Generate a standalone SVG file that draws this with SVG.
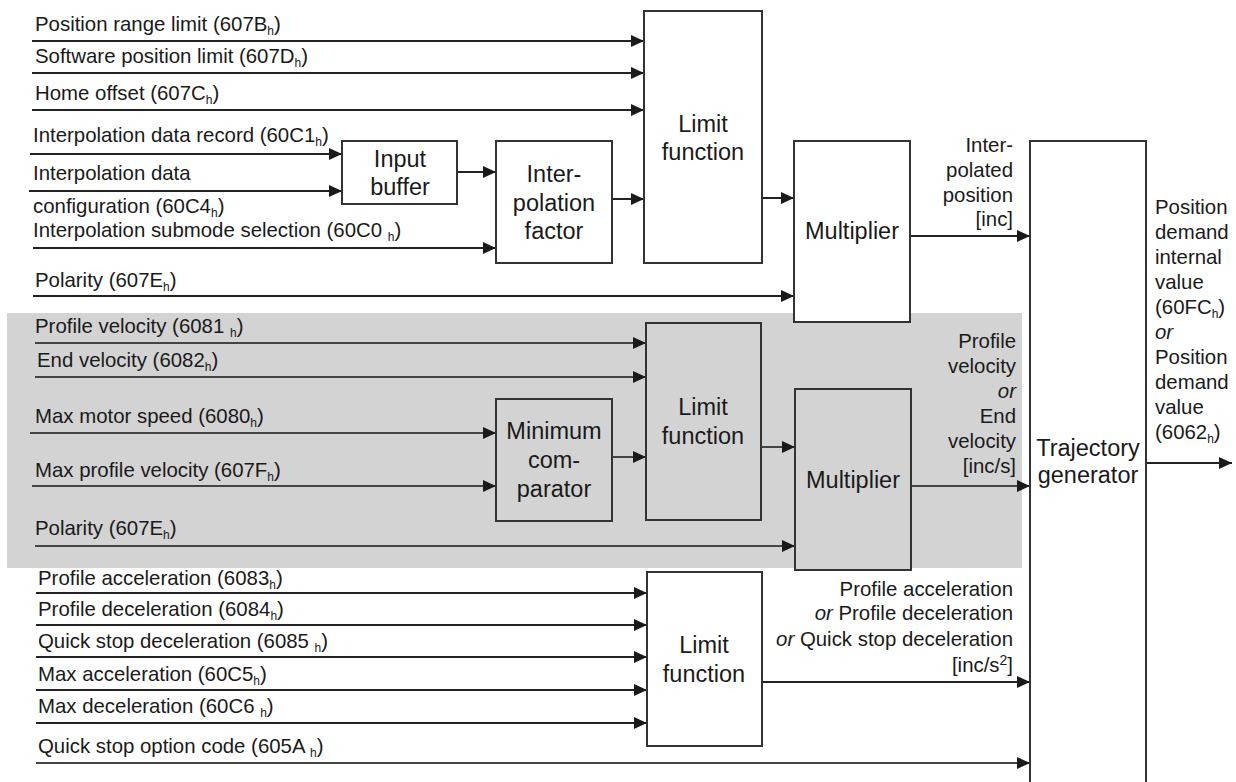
<svg xmlns="http://www.w3.org/2000/svg" width="1236" height="782" viewBox="0 0 1236 782">
<defs>
<marker id="arr" markerUnits="userSpaceOnUse" markerWidth="14" markerHeight="12" refX="13" refY="6" orient="auto">
<path d="M0,0 L13,6 L0,12 z" fill="#1a1a1a"/>
</marker>
<style>
.lbl{font-family:"Liberation Sans",Arial,sans-serif;font-size:20.4px;fill:#1a1a1a}
.blk{font-family:"Liberation Sans",Arial,sans-serif;font-size:23.5px;fill:#1a1a1a;text-anchor:middle}
.sub{font-size:12px}
.sup{font-size:14px}
.box{fill:#fff;stroke:#333;stroke-width:2}
.gbox{fill:#d3d3d3;stroke:#333;stroke-width:2}
.ln{fill:none;stroke:#222;stroke-width:2;marker-end:url(#arr)}
.gl{fill:none;stroke:#444;stroke-width:2;marker-end:url(#arr)}
.r{text-anchor:end}
.it{font-style:italic}
</style>
</defs>
<rect width="1236" height="782" fill="#fff"/>
<rect id="velocity-band" x="7" y="313" width="1015" height="255" fill="#d3d3d3"/>

<g id="connectors">
<path class="ln" d="M32,41 H644"/>
<path class="ln" d="M32,73 H644"/>
<path class="ln" d="M32,110 H644"/>
<path class="ln" d="M30,154 H342"/>
<path class="ln" d="M29,191 H342"/>
<path class="ln" d="M457,172 H496"/>
<path class="ln" d="M33,248 H496"/>
<path class="ln" d="M612,199 H644"/>
<path class="ln" d="M760,198 H794"/>
<path class="ln" d="M33,296 H794"/>
<path class="ln" d="M910,236 H1030"/>
<path class="ln" d="M1146,463 H1232"/>
<path class="gl" d="M35,343 H646"/>
<path class="gl" d="M35,377 H646"/>
<path class="gl" d="M30,433 H496"/>
<path class="gl" d="M32,486 H496"/>
<path class="gl" d="M612,457 H646"/>
<path class="gl" d="M761,447 H795"/>
<path class="gl" d="M35,546 H795"/>
<path class="gl" d="M911,486 H1030"/>
<path class="ln" d="M36,593 H647"/>
<path class="ln" d="M36,625 H647"/>
<path class="ln" d="M36,657 H647"/>
<path class="ln" d="M36,690 H647"/>
<path class="ln" d="M36,723 H647"/>
<path class="ln" d="M762,682 H1030"/>
<path class="gl" d="M36,763 H1030"/>
</g>

<g id="input-labels">
<text class="lbl" x="35" y="31">Position range limit (607B<tspan class="sub" dy="4">h</tspan><tspan dy="-4">)</tspan></text>
<text class="lbl" x="35" y="63">Software position limit (607D<tspan class="sub" dy="4">h</tspan><tspan dy="-4">)</tspan></text>
<text class="lbl" x="35" y="100">Home offset (607C<tspan class="sub" dy="4">h</tspan><tspan dy="-4">)</tspan></text>
<text class="lbl" x="33" y="142">Interpolation data record (60C1<tspan class="sub" dy="4">h</tspan><tspan dy="-4">)</tspan></text>
<text class="lbl" x="33" y="180">Interpolation data</text>
<text class="lbl" x="33" y="213">configuration (60C4<tspan class="sub" dy="4">h</tspan><tspan dy="-4">)</tspan></text>
<text class="lbl" x="33" y="237">Interpolation submode selection (60C0 <tspan class="sub" dy="4">h</tspan><tspan dy="-4">)</tspan></text>
<text class="lbl" x="35" y="287">Polarity (607E<tspan class="sub" dy="4">h</tspan><tspan dy="-4">)</tspan></text>
<text class="lbl" x="35" y="333">Profile velocity (6081 <tspan class="sub" dy="4">h</tspan><tspan dy="-4">)</tspan></text>
<text class="lbl" x="37" y="367">End velocity (6082<tspan class="sub" dy="4">h</tspan><tspan dy="-4">)</tspan></text>
<text class="lbl" x="35" y="423">Max motor speed (6080<tspan class="sub" dy="4">h</tspan><tspan dy="-4">)</tspan></text>
<text class="lbl" x="35" y="477">Max profile velocity (607F<tspan class="sub" dy="4">h</tspan><tspan dy="-4">)</tspan></text>
<text class="lbl" x="35" y="535">Polarity (607E<tspan class="sub" dy="4">h</tspan><tspan dy="-4">)</tspan></text>
<text class="lbl" x="38" y="585">Profile acceleration (6083<tspan class="sub" dy="4">h</tspan><tspan dy="-4">)</tspan></text>
<text class="lbl" x="38" y="616">Profile deceleration (6084<tspan class="sub" dy="4">h</tspan><tspan dy="-4">)</tspan></text>
<text class="lbl" x="38" y="648">Quick stop deceleration (6085 <tspan class="sub" dy="4">h</tspan><tspan dy="-4">)</tspan></text>
<text class="lbl" x="38" y="681">Max acceleration (60C5<tspan class="sub" dy="4">h</tspan><tspan dy="-4">)</tspan></text>
<text class="lbl" x="38" y="713">Max deceleration (60C6 <tspan class="sub" dy="4">h</tspan><tspan dy="-4">)</tspan></text>
<text class="lbl" x="38" y="753">Quick stop option code (605A <tspan class="sub" dy="4">h</tspan><tspan dy="-4">)</tspan></text>
</g>

<g id="input-buffer">
<rect class="box" x="342" y="141" width="115" height="63"/>
<text class="blk" x="400" y="167">Input</text>
<text class="blk" x="400" y="195">buffer</text>
</g>
<g id="interpolation-factor">
<rect class="box" x="496" y="141" width="116" height="122"/>
<text class="blk" x="554" y="182">Inter-</text>
<text class="blk" x="554" y="211">polation</text>
<text class="blk" x="554" y="239">factor</text>
</g>
<g id="limit-function-1">
<rect class="box" x="644" y="11" width="118" height="252"/>
<text class="blk" x="703" y="132">Limit</text>
<text class="blk" x="703" y="160">function</text>
</g>
<g id="multiplier-1">
<rect class="box" x="794" y="141" width="116" height="181"/>
<text class="blk" x="852" y="239">Multiplier</text>
</g>
<g id="minimum-comparator">
<rect class="gbox" x="496" y="399" width="116" height="122"/>
<text class="blk" x="554" y="439">Minimum</text>
<text class="blk" x="554" y="468">com-</text>
<text class="blk" x="554" y="497">parator</text>
</g>
<g id="limit-function-2">
<rect class="gbox" x="646" y="323" width="115" height="197"/>
<text class="blk" x="703" y="415">Limit</text>
<text class="blk" x="703" y="444">function</text>
</g>
<g id="multiplier-2">
<rect class="gbox" x="795" y="389" width="116" height="181"/>
<text class="blk" x="853" y="488">Multiplier</text>
</g>
<g id="limit-function-3">
<rect class="box" x="647" y="572" width="115" height="174"/>
<text class="blk" x="704" y="653">Limit</text>
<text class="blk" x="704" y="682">function</text>
</g>
<g id="trajectory-generator">
<rect class="box" x="1030" y="141" width="116" height="660"/>
<text class="blk" x="1088" y="456">Trajectory</text>
<text class="blk" x="1088" y="483">generator</text>
</g>

<g id="signal-labels">
<text class="lbl r" x="1013" y="152">Inter-</text>
<text class="lbl r" x="1013" y="177">polated</text>
<text class="lbl r" x="1013" y="202">position</text>
<text class="lbl r" x="1013" y="226">[inc]</text>
<text class="lbl r" x="1016" y="348">Profile</text>
<text class="lbl r" x="1016" y="373">velocity</text>
<text class="lbl r it" x="1016" y="398">or</text>
<text class="lbl r" x="1016" y="423">End</text>
<text class="lbl r" x="1016" y="448">velocity</text>
<text class="lbl r" x="1016" y="473">[inc/s]</text>
<text class="lbl r" x="1013" y="596">Profile acceleration</text>
<text class="lbl r" x="1013" y="620"><tspan class="it">or</tspan> Profile deceleration</text>
<text class="lbl r" x="1013" y="646"><tspan class="it">or</tspan> Quick stop deceleration</text>
<text class="lbl r" x="1013" y="672">[inc/s<tspan class="sup" dy="-7">2</tspan><tspan dy="7">]</tspan></text>
<text class="lbl" x="1155" y="214">Position</text>
<text class="lbl" x="1155" y="239">demand</text>
<text class="lbl" x="1155" y="264">internal</text>
<text class="lbl" x="1155" y="289">value</text>
<text class="lbl" x="1155" y="314">(60FC<tspan class="sub" dy="4">h</tspan><tspan dy="-4">)</tspan></text>
<text class="lbl it" x="1155" y="339">or</text>
<text class="lbl" x="1155" y="364">Position</text>
<text class="lbl" x="1155" y="389">demand</text>
<text class="lbl" x="1155" y="414">value</text>
<text class="lbl" x="1155" y="439">(6062<tspan class="sub" dy="4">h</tspan><tspan dy="-4">)</tspan></text>
</g>
</svg>
